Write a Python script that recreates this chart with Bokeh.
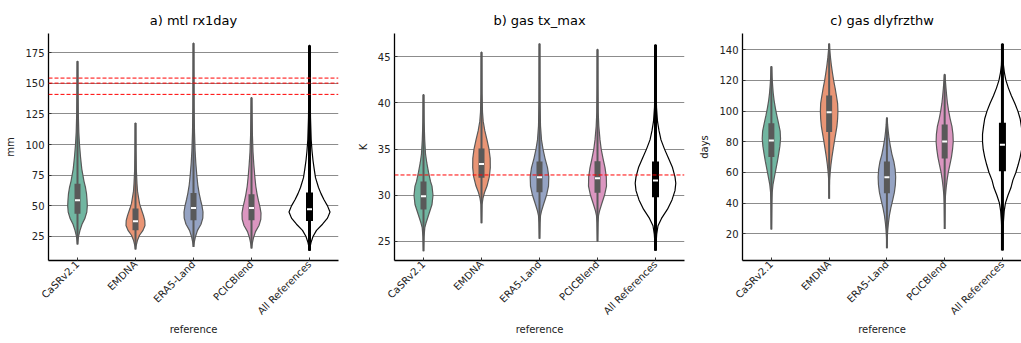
import math
from bokeh.plotting import figure
from bokeh.models import Span, FixedTicker, Range1d
from bokeh.layouts import row
from bokeh.embed import file_html
from bokeh.resources import INLINE

categories = ["CaSRv2.1", "EMDNA", "ERA5-Land", "PCICBlend", "All References"]
x_title = "reference"

# ---------- panel a) mtl rx1day (mm) ----------
a_min = [18.5, 14.4, 16.5, 15.2, 13.3]
a_q1 = [43.6, 30.1, 38.3, 38.3, 37.7]
a_med = [54.6, 37.5, 48.3, 48.3, 47.3]
a_q3 = [68.0, 47.8, 60.5, 59.5, 60.9]
a_max = [168.0, 117.6, 182.8, 138.3, 181.0]
a_refs = [154.3, 150.2, 141.0]
# density profiles (value, relative density)
a_density = {
    "CaSRv2.1": [(18.5, 0), (22, 0.5), (25, 1), (30, 2.5), (35, 4.5), (40, 7.5), (45, 9.3), (50, 9.8), (55, 9.5),
                 (60, 9), (65, 8), (70, 6.5), (80, 4.3), (90, 3), (100, 2), (110, 1.3), (125, 0.8), (145, 0.5), (168, 0.3)],
    "EMDNA": [(14.4, 0), (17, 0.5), (22, 2), (26, 4), (30, 7.5), (34, 9.5), (38, 9.3), (42, 8), (48, 5.5), (52, 4),
              (57, 3), (62, 2), (68, 1.5), (80, 0.8), (95, 0.5), (117.6, 0.3)],
    "ERA5-Land": [(16.5, 0), (20, 0.7), (25, 2), (30, 4), (35, 7.5), (40, 9.3), (45, 9.5), (50, 8.5), (55, 7),
                  (60, 5.7), (67, 4.3), (75, 3.3), (85, 2.3), (95, 1.6), (110, 1), (130, 0.6), (160, 0.4), (182.8, 0.3)],
    "PCICBlend": [(15.2, 0), (19, 0.7), (24, 2), (29, 4), (34, 7.5), (39, 9.3), (44, 9.5), (49, 8.5), (54, 7),
                  (59, 5.7), (66, 4.3), (74, 3.3), (84, 2.3), (94, 1.5), (108, 0.9), (122, 0.6), (138.3, 0.3)],
    "All References": [(13.3, 0), (17, 0.7), (20, 1.5), (25, 3.5), (30, 7), (35, 13), (40, 18), (45, 20.5), (50, 18),
                       (55, 14.5), (60, 11.5), (65, 9), (73, 6), (80, 4.7), (87, 3.5), (95, 2.5), (104, 1.7), (122, 1),
                       (150, 0.6), (181, 0.4)],
}

# ---------- panel b) gas tx_max (K) ----------
b_min = [23.94, 26.97, 25.3, 24.99, 24.0]
b_q1 = [28.46, 31.89, 30.33, 30.27, 29.8]
b_med = [29.9, 33.4, 31.96, 31.85, 31.6]
b_q3 = [31.49, 35.07, 33.66, 33.7, 33.66]
b_max = [40.9, 45.5, 46.4, 45.8, 46.3]
b_refs = [32.2]
b_density = {
    "CaSRv2.1": [(23.94, 0), (25.5, 0.5), (26.5, 1.3), (27, 2.5), (28, 5.5), (29, 8.5), (30, 9.5), (31, 8.5),
                 (31.5, 7), (32.5, 5), (33.5, 3.3), (34.5, 2), (36, 1.2), (38, 0.6), (40.9, 0.3)],
    "EMDNA": [(26.97, 0), (29, 0.5), (29.7, 1.5), (30.3, 3), (31, 5.5), (32, 7.8), (33, 8.8), (34, 8.7), (35, 7.5),
              (36, 5.5), (37, 3.3), (38, 1.7), (39, 1), (41, 0.5), (45.5, 0.3)],
    "ERA5-Land": [(25.3, 0), (27, 0.5), (27.8, 1), (28.3, 2), (29, 4), (30, 7), (31, 9), (32, 9.3), (33, 8),
                  (34, 5.5), (35, 3.5), (36, 2), (37.5, 1), (40, 0.5), (46.4, 0.3)],
    "PCICBlend": [(24.99, 0), (27, 0.5), (27.8, 1), (28.3, 2), (29, 4), (30, 7), (31, 9), (32, 8.8), (33, 7.5),
                  (34, 5.5), (35, 3.7), (36, 2.5), (37.5, 1.3), (39, 0.7), (42, 0.4), (45.8, 0.3)],
    "All References": [(24.0, 0), (25, 0.7), (25.8, 1.2), (26.7, 2.5), (27.5, 6), (28.5, 12), (29.5, 16.5),
                       (30.5, 19.5), (31.3, 20.3), (32, 19.5), (33, 17), (34, 13), (35, 9), (36, 5.5), (37, 3.5),
                       (38, 2), (39.5, 1), (42, 0.5), (46.3, 0.3)],
}

# ---------- panel c) gas dlyfrzthw (days) ----------
c_min = [22.8, 42.8, 10.6, 23.2, 9.1]
c_q1 = [70.0, 86.3, 46.5, 69.1, 60.8]
c_med = [80.8, 99.3, 56.9, 80.2, 78.0]
c_q3 = [92.1, 110.2, 67.1, 91.3, 92.4]
c_max = [129.1, 143.9, 95.6, 123.9, 143.9]
c_refs = []
c_density = {
    "CaSRv2.1": [(22.8, 0), (40, 0.4), (47, 0.8), (52, 1.6), (57, 3), (62, 4.5), (67, 6), (72, 7.3), (77, 8.5),
                 (82, 9.2), (87, 8.8), (92, 7.2), (97, 5.5), (102, 4), (107, 2.7), (112, 1.8), (117, 1.2), (122, 0.7),
                 (129.1, 0.3)],
    "EMDNA": [(42.8, 0), (55, 0.4), (60, 1), (65, 1.8), (70, 2.8), (75, 4), (80, 5.2), (85, 6.5), (90, 7.8),
              (95, 8.5), (100, 8.8), (105, 8.5), (110, 7.3), (115, 6), (120, 4.5), (125, 3.3), (130, 2.2),
              (135, 1.3), (140, 0.6), (143.9, 0.3)],
    "ERA5-Land": [(10.6, 0), (18, 0.4), (22, 0.8), (27, 1.5), (32, 2.5), (37, 4), (42, 5.8), (47, 7.5), (52, 8.5),
                  (57, 8.8), (62, 8.3), (67, 7), (72, 5), (77, 3.5), (82, 2.2), (87, 1.3), (91, 0.7), (95.6, 0.3)],
    "PCICBlend": [(23.2, 0), (40, 0.4), (45, 0.8), (50, 1.5), (55, 2.4), (60, 3.6), (65, 5.2), (70, 6.8), (75, 7.9),
                  (80, 8.6), (85, 8.3), (90, 7.3), (95, 5.5), (100, 4), (105, 2.8), (110, 2), (115, 1.3), (120, 0.7),
                  (123.9, 0.3)],
    "All References": [(9.1, 0), (20, 0.5), (28, 1), (35, 1.8), (40, 3), (45, 5.5), (50, 8.5), (55, 10.5),
                       (60, 13.5), (65, 15.8), (70, 17.8), (75, 19.3), (80, 20), (85, 20), (90, 19), (95, 17.8),
                       (100, 15.5), (105, 12.5), (110, 9), (115, 6), (120, 3.5), (125, 2), (130, 1), (137, 0.6),
                       (143.9, 0.3)],
}

# ---------- styles / layout ----------
FILLS = ["#71b6a1", "#e99575", "#95a3c3", "#db96c0", "#ffffff"]
EDGES = ["#595959", "#595959", "#595959", "#595959", "#000000"]
PX_PER_CAT = 58.0
FONT = "DejaVu Sans"
FIG_H = 343
TOP_B = 33
FRAME_H = 227


def make_panel(title, ylabel, mins, q1s, meds, q3s, maxs, dens, refs, y_range, yticks,
               width, min_left, min_right, x_end):
    p = figure(width=width, height=FIG_H, output_backend="svg", toolbar_location=None,
               x_range=Range1d(-0.5, x_end), y_range=Range1d(*y_range),
               min_border_left=min_left, min_border_right=min_right,
               min_border_top=TOP_B, min_border_bottom=FIG_H - TOP_B - FRAME_H)
    p.title.text = title
    p.title.align = "center"
    p.title.text_font = FONT
    p.title.text_font_size = "13px"
    p.title.text_font_style = "normal"
    p.title.text_color = "#000000"
    p.title.standoff = 11
    p.outline_line_color = None
    p.background_fill_color = "white"
    p.border_fill_color = "white"

    p.xgrid.grid_line_color = None
    p.ygrid.grid_line_color = "#8c8c8c"
    p.ygrid.grid_line_width = 1

    for r in refs:
        p.add_layout(Span(location=r, dimension="width", line_color="#ff0000", line_dash="4 2", line_width=1))

    for i, cat in enumerate(categories):
        prof = dens[cat]
        vals = [v for v, d in prof]
        ds = [d / PX_PER_CAT for v, d in prof]
        xs = [i - d for d in ds] + [i + d for d in reversed(ds)]
        ys = vals + list(reversed(vals))
        p.patch(xs, ys, fill_color=FILLS[i], line_color=EDGES[i], line_width=1.2)
        wl = 3 if i == 4 else 2
        bw = 7 if i == 4 else 6
        p.segment(x0=[i], y0=[mins[i]], x1=[i], y1=[maxs[i]], line_color=EDGES[i], line_width=wl)
        p.segment(x0=[i], y0=[q1s[i]], x1=[i], y1=[q3s[i]], line_color=EDGES[i], line_width=bw)
        p.rect(x=[i], y=[meds[i]], width=5, height=2, width_units="screen", height_units="screen",
               fill_color="white", line_color=None)

    for ax in (p.xaxis[0], p.yaxis[0]):
        ax.axis_line_color = "black"
        ax.axis_line_width = 1.3
        ax.major_tick_in = 3
        ax.major_tick_out = 0
        ax.minor_tick_in = 0
        ax.minor_tick_out = 0
        ax.major_tick_line_color = "#333333"
        ax.major_label_text_font = FONT
        ax.major_label_text_font_size = "10px"
        ax.major_label_text_color = "#222222"
        ax.axis_label_text_font = FONT
        ax.axis_label_text_font_size = "10px"
        ax.axis_label_text_font_style = "normal"
        ax.axis_label_text_color = "#222222"
        ax.major_label_standoff = 4
        ax.axis_label_standoff = 6

    p.xaxis.ticker = FixedTicker(ticks=list(range(len(categories))))
    p.xaxis.major_label_overrides = {i: c for i, c in enumerate(categories)}
    p.xaxis.major_label_orientation = math.pi / 4
    p.xaxis.major_label_standoff = 2
    p.xaxis.axis_label = x_title
    p.xaxis.axis_label_standoff = 0
    p.yaxis.ticker = FixedTicker(ticks=yticks)
    p.yaxis.axis_label = ylabel
    return p


pa = make_panel("a) mtl rx1day", "mm", a_min, a_q1, a_med, a_q3, a_max, a_density, a_refs,
                (5.4, 190.7), [25, 50, 75, 100, 125, 150, 175], 350, 48, 12, 4.5)
pb = make_panel("b) gas tx_max", "K", b_min, b_q1, b_med, b_q3, b_max, b_density, b_refs,
                (22.94, 47.52), [25, 30, 35, 40, 45], 346, 44, 12, 4.5)
pc = make_panel("c) gas dlyfrzthw", "days", c_min, c_q1, c_med, c_q3, c_max, c_density, c_refs,
                (2.6, 150.6), [20, 40, 60, 80, 100, 120, 140], 325, 45, 0, 4.33)

layout = row(pa, pb, pc, spacing=0)
open("out.html", "w").write(file_html(layout, INLINE))
